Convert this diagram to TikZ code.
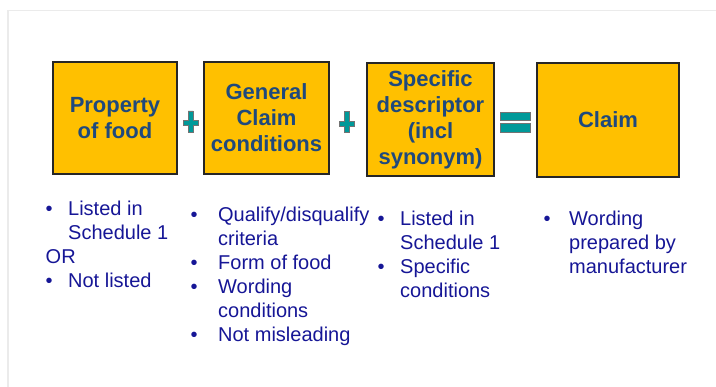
\documentclass[tikz,border=0pt]{standalone}
\usepackage{fontspec}
\setmainfont{Liberation Sans}
\usepackage{array}
\usetikzlibrary{calc}

\definecolor{boxgold}{RGB}{255,192,0}
\definecolor{boxtext}{RGB}{31,73,125}
\definecolor{listblue}{RGB}{22,22,150}
\definecolor{signteal}{RGB}{0,153,153}
\definecolor{framegray}{RGB}{235,235,235}

\tikzset{
  part/.style={draw=black!85,line width=1.6pt,fill=boxgold,text=boxtext,
    align=center,inner sep=0pt,font=\fontsize{22}{26}\selectfont\bfseries},
  list/.style={anchor=base west,inner sep=0pt,text=listblue,
    font=\fontsize{20}{24}\selectfont},
  sign/.style={fill=signteal,draw=black!55,line width=0.6pt},
  pics/plussign/.style={code={
    \filldraw[sign] (-2.5,-12)--(2.5,-12)--(2.5,-2.5)--(7.5,-2.5)--(7.5,2.5)
      --(2.5,2.5)--(2.5,9)--(-2.5,9)--(-2.5,2.5)--(-7.5,2.5)--(-7.5,-2.5)
      --(-2.5,-2.5)--cycle;}},
  pics/equalsign/.style={code={
    \filldraw[sign] (-15,-10) rectangle (15,-2);
    \filldraw[sign] (-15,1) rectangle (15,10);}}
}

\newcommand{\blist}[2]{\begin{tabular}[t]{@{}p{#1}@{}l@{}}#2\end{tabular}}

\begin{document}
\begin{tikzpicture}[x=1pt,y=-1pt]
\useasboundingbox (0,0) rectangle (716,387);
\draw[framegray,line width=1.8pt] (8,387)--(8,10.5)--(716,10.5);

\node[part,minimum width=124pt,minimum height=112pt] (propBox) at (115,118) {Property\\of food};
\node[part,minimum width=125pt,minimum height=112pt] (condBox) at (266.5,118) {General\\Claim\\conditions};
\node[part,minimum width=127pt,minimum height=113pt] (descBox) at (430.5,119.5) {Specific\\descriptor\\(incl\\synonym)};
\node[part,minimum width=142pt,minimum height=114pt] (claimBox) at (608,120) {Claim};

\pic at ($(propBox.east)!.5!(condBox.west)+(0,5)$) {plussign};
\pic at ($(condBox.east)!.5!(descBox.west)+(-1.5,5)$) {plussign};
\pic at ($(descBox.east)!.5!(claimBox.west)+(0,3)$) {equalsign};

\node[list] (propList) at (45.5,216) {\blist{22.5pt}{%
  \textbullet & Listed in\\ & Schedule 1\\ \multicolumn{2}{@{}l}{OR}\\
  \textbullet & Not listed}};
\node[list] (condList) at (190.5,222) {\blist{27.5pt}{%
  \textbullet & Qualify/disqualify\\ & criteria\\ \textbullet & Form of food\\
  \textbullet & Wording\\ & conditions\\ \textbullet & Not misleading}};
\node[list] (descList) at (377.5,226) {\blist{22.5pt}{%
  \textbullet & Listed in\\ & Schedule 1\\ \textbullet & Specific\\ & conditions}};
\node[list] (claimList) at (543.5,226) {\blist{25.5pt}{%
  \textbullet & Wording\\ & prepared by\\ & manufacturer}};
\end{tikzpicture}
\end{document}
